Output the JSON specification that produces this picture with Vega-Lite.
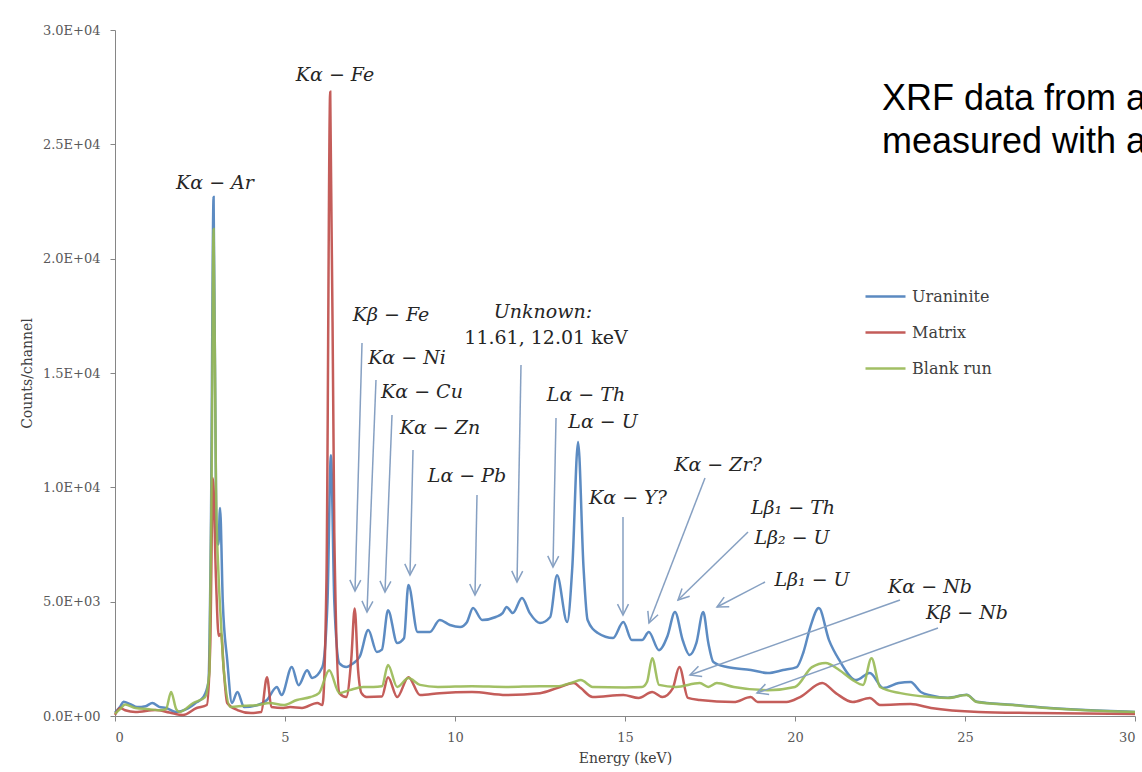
{
"$schema":"https://vega.github.io/schema/vega-lite/v6.json",
"width":1020,"height":686,
"autosize":{"type":"none"},
"padding":{"left":115,"top":30,"right":7,"bottom":56},
"background":"white",
"config":{"view":{"stroke":null},"axis":{"grid":false,"domainColor":"#868686","tickColor":"#868686","tickSize":5,"labelFont":"DejaVu Serif","labelFontSize":13,"labelColor":"#595959","titleFont":"DejaVu Serif","titleFontSize":14,"titleFontWeight":"normal","titleColor":"#404040"},"legend":{"padding":0}},
"datasets":{
"spec":[
{"s":"Uraninite","e":0.0,"c":150},{"s":"Uraninite","e":0.15,"c":400},{"s":"Uraninite","e":0.25,"c":620},{"s":"Uraninite","e":0.45,"c":520},{"s":"Uraninite","e":0.65,"c":390},{"s":"Uraninite","e":0.9,"c":430},{"s":"Uraninite","e":1.1,"c":570},{"s":"Uraninite","e":1.3,"c":400},{"s":"Uraninite","e":1.5,"c":350},{"s":"Uraninite","e":1.8,"c":175},{"s":"Uraninite","e":2.1,"c":300},{"s":"Uraninite","e":2.4,"c":600},{"s":"Uraninite","e":2.6,"c":830},{"s":"Uraninite","e":2.75,"c":1500},{"s":"Uraninite","e":2.82,"c":8000},{"s":"Uraninite","e":2.9,"c":22700},{"s":"Uraninite","e":2.98,"c":8000},{"s":"Uraninite","e":3.04,"c":7500},{"s":"Uraninite","e":3.09,"c":9100},{"s":"Uraninite","e":3.17,"c":5000},{"s":"Uraninite","e":3.3,"c":2450},{"s":"Uraninite","e":3.44,"c":570},{"s":"Uraninite","e":3.6,"c":1050},{"s":"Uraninite","e":3.8,"c":390},{"s":"Uraninite","e":4.2,"c":480},{"s":"Uraninite","e":4.47,"c":700},{"s":"Uraninite","e":4.76,"c":1270},{"s":"Uraninite","e":4.9,"c":920},{"s":"Uraninite","e":5.2,"c":2140},{"s":"Uraninite","e":5.4,"c":1350},{"s":"Uraninite","e":5.65,"c":2000},{"s":"Uraninite","e":5.8,"c":1660},{"s":"Uraninite","e":6.1,"c":2140},{"s":"Uraninite","e":6.25,"c":5000},{"s":"Uraninite","e":6.35,"c":11400},{"s":"Uraninite","e":6.45,"c":5000},{"s":"Uraninite","e":6.6,"c":2300},{"s":"Uraninite","e":6.8,"c":2140},{"s":"Uraninite","e":7.0,"c":2300},{"s":"Uraninite","e":7.2,"c":2600},{"s":"Uraninite","e":7.45,"c":3760},{"s":"Uraninite","e":7.7,"c":2800},{"s":"Uraninite","e":7.85,"c":2900},{"s":"Uraninite","e":8.03,"c":4630},{"s":"Uraninite","e":8.3,"c":3190},{"s":"Uraninite","e":8.5,"c":3400},{"s":"Uraninite","e":8.63,"c":5730},{"s":"Uraninite","e":8.9,"c":3670},{"s":"Uraninite","e":9.26,"c":3670},{"s":"Uraninite","e":9.55,"c":4200},{"s":"Uraninite","e":9.85,"c":3980},{"s":"Uraninite","e":10.15,"c":3890},{"s":"Uraninite","e":10.35,"c":4100},{"s":"Uraninite","e":10.53,"c":4720},{"s":"Uraninite","e":10.8,"c":4200},{"s":"Uraninite","e":11.2,"c":4330},{"s":"Uraninite","e":11.4,"c":4500},{"s":"Uraninite","e":11.52,"c":4770},{"s":"Uraninite","e":11.7,"c":4500},{"s":"Uraninite","e":11.97,"c":5160},{"s":"Uraninite","e":12.2,"c":4500},{"s":"Uraninite","e":12.5,"c":4070},{"s":"Uraninite","e":12.8,"c":4330},{"s":"Uraninite","e":13.0,"c":6160},{"s":"Uraninite","e":13.3,"c":4110},{"s":"Uraninite","e":13.45,"c":6500},{"s":"Uraninite","e":13.62,"c":11980},{"s":"Uraninite","e":13.78,"c":6500},{"s":"Uraninite","e":13.9,"c":4200},{"s":"Uraninite","e":14.2,"c":3630},{"s":"Uraninite","e":14.65,"c":3410},{"s":"Uraninite","e":14.95,"c":4110},{"s":"Uraninite","e":15.2,"c":3320},{"s":"Uraninite","e":15.5,"c":3320},{"s":"Uraninite","e":15.7,"c":3670},{"s":"Uraninite","e":16.0,"c":2880},{"s":"Uraninite","e":16.25,"c":3500},{"s":"Uraninite","e":16.47,"c":4550},{"s":"Uraninite","e":16.7,"c":3300},{"s":"Uraninite","e":16.9,"c":2670},{"s":"Uraninite","e":17.1,"c":3200},{"s":"Uraninite","e":17.3,"c":4550},{"s":"Uraninite","e":17.45,"c":3200},{"s":"Uraninite","e":17.6,"c":2360},{"s":"Uraninite","e":18.0,"c":2140},{"s":"Uraninite","e":18.7,"c":2010},{"s":"Uraninite","e":19.2,"c":1880},{"s":"Uraninite","e":19.65,"c":2010},{"s":"Uraninite","e":20.05,"c":2140},{"s":"Uraninite","e":20.25,"c":2800},{"s":"Uraninite","e":20.45,"c":3890},{"s":"Uraninite","e":20.7,"c":4720},{"s":"Uraninite","e":21.0,"c":3320},{"s":"Uraninite","e":21.3,"c":2450},{"s":"Uraninite","e":21.8,"c":1570},{"s":"Uraninite","e":22.2,"c":1880},{"s":"Uraninite","e":22.6,"c":1220},{"s":"Uraninite","e":23.05,"c":1440},{"s":"Uraninite","e":23.4,"c":1490},{"s":"Uraninite","e":23.7,"c":1050},{"s":"Uraninite","e":24.0,"c":900},{"s":"Uraninite","e":24.5,"c":800},{"s":"Uraninite","e":25.05,"c":930},{"s":"Uraninite","e":25.35,"c":620},{"s":"Uraninite","e":26.4,"c":490},{"s":"Uraninite","e":27.4,"c":360},{"s":"Uraninite","e":28.4,"c":270},{"s":"Uraninite","e":30.0,"c":180},
{"s":"Matrix","e":0.0,"c":50},{"s":"Matrix","e":0.15,"c":350},{"s":"Matrix","e":0.3,"c":250},{"s":"Matrix","e":0.6,"c":175},{"s":"Matrix","e":1.2,"c":260},{"s":"Matrix","e":1.6,"c":150},{"s":"Matrix","e":2.0,"c":40},{"s":"Matrix","e":2.4,"c":350},{"s":"Matrix","e":2.7,"c":480},{"s":"Matrix","e":2.8,"c":3000},{"s":"Matrix","e":2.88,"c":10400},{"s":"Matrix","e":2.97,"c":6000},{"s":"Matrix","e":3.05,"c":3500},{"s":"Matrix","e":3.12,"c":3600},{"s":"Matrix","e":3.2,"c":2000},{"s":"Matrix","e":3.3,"c":570},{"s":"Matrix","e":3.6,"c":260},{"s":"Matrix","e":4.0,"c":130},{"s":"Matrix","e":4.3,"c":175},{"s":"Matrix","e":4.47,"c":1700},{"s":"Matrix","e":4.6,"c":390},{"s":"Matrix","e":4.95,"c":350},{"s":"Matrix","e":5.15,"c":390},{"s":"Matrix","e":5.5,"c":350},{"s":"Matrix","e":5.95,"c":570},{"s":"Matrix","e":6.1,"c":480},{"s":"Matrix","e":6.22,"c":6000},{"s":"Matrix","e":6.33,"c":27300},{"s":"Matrix","e":6.45,"c":8000},{"s":"Matrix","e":6.6,"c":1000},{"s":"Matrix","e":6.8,"c":830},{"s":"Matrix","e":6.95,"c":2500},{"s":"Matrix","e":7.05,"c":4700},{"s":"Matrix","e":7.15,"c":2000},{"s":"Matrix","e":7.25,"c":1000},{"s":"Matrix","e":7.4,"c":830},{"s":"Matrix","e":7.85,"c":850},{"s":"Matrix","e":8.03,"c":1700},{"s":"Matrix","e":8.3,"c":830},{"s":"Matrix","e":8.63,"c":1700},{"s":"Matrix","e":8.97,"c":920},{"s":"Matrix","e":9.55,"c":1000},{"s":"Matrix","e":10.5,"c":1050},{"s":"Matrix","e":11.5,"c":920},{"s":"Matrix","e":12.5,"c":1000},{"s":"Matrix","e":13.0,"c":1220},{"s":"Matrix","e":13.5,"c":1440},{"s":"Matrix","e":13.7,"c":1220},{"s":"Matrix","e":14.05,"c":830},{"s":"Matrix","e":14.95,"c":920},{"s":"Matrix","e":15.4,"c":790},{"s":"Matrix","e":15.8,"c":1050},{"s":"Matrix","e":16.1,"c":830},{"s":"Matrix","e":16.4,"c":1200},{"s":"Matrix","e":16.6,"c":2140},{"s":"Matrix","e":16.85,"c":790},{"s":"Matrix","e":17.2,"c":700},{"s":"Matrix","e":18.2,"c":610},{"s":"Matrix","e":18.7,"c":830},{"s":"Matrix","e":18.9,"c":610},{"s":"Matrix","e":19.75,"c":610},{"s":"Matrix","e":20.15,"c":830},{"s":"Matrix","e":20.8,"c":1440},{"s":"Matrix","e":21.2,"c":1000},{"s":"Matrix","e":21.7,"c":610},{"s":"Matrix","e":22.2,"c":790},{"s":"Matrix","e":22.5,"c":480},{"s":"Matrix","e":23.4,"c":520},{"s":"Matrix","e":24.0,"c":350},{"s":"Matrix","e":25.4,"c":175},{"s":"Matrix","e":27.0,"c":130},{"s":"Matrix","e":30.0,"c":90},
{"s":"Blank run","e":0.0,"c":100},{"s":"Blank run","e":0.15,"c":300},{"s":"Blank run","e":0.3,"c":500},{"s":"Blank run","e":0.6,"c":350},{"s":"Blank run","e":1.0,"c":300},{"s":"Blank run","e":1.3,"c":250},{"s":"Blank run","e":1.5,"c":300},{"s":"Blank run","e":1.65,"c":1050},{"s":"Blank run","e":1.8,"c":300},{"s":"Blank run","e":1.9,"c":175},{"s":"Blank run","e":2.3,"c":570},{"s":"Blank run","e":2.65,"c":830},{"s":"Blank run","e":2.78,"c":2000},{"s":"Blank run","e":2.85,"c":12000},{"s":"Blank run","e":2.9,"c":21300},{"s":"Blank run","e":2.97,"c":10000},{"s":"Blank run","e":3.05,"c":6000},{"s":"Blank run","e":3.12,"c":4000},{"s":"Blank run","e":3.2,"c":2000},{"s":"Blank run","e":3.4,"c":390},{"s":"Blank run","e":3.8,"c":450},{"s":"Blank run","e":4.2,"c":480},{"s":"Blank run","e":4.55,"c":570},{"s":"Blank run","e":4.95,"c":480},{"s":"Blank run","e":5.35,"c":700},{"s":"Blank run","e":5.75,"c":830},{"s":"Blank run","e":6.0,"c":1000},{"s":"Blank run","e":6.3,"c":2000},{"s":"Blank run","e":6.6,"c":1000},{"s":"Blank run","e":6.9,"c":1130},{"s":"Blank run","e":7.3,"c":1270},{"s":"Blank run","e":7.6,"c":1270},{"s":"Blank run","e":7.85,"c":1300},{"s":"Blank run","e":8.03,"c":2230},{"s":"Blank run","e":8.3,"c":1270},{"s":"Blank run","e":8.63,"c":1660},{"s":"Blank run","e":8.97,"c":1360},{"s":"Blank run","e":9.5,"c":1270},{"s":"Blank run","e":10.5,"c":1300},{"s":"Blank run","e":11.5,"c":1270},{"s":"Blank run","e":12.5,"c":1300},{"s":"Blank run","e":13.0,"c":1300},{"s":"Blank run","e":13.5,"c":1490},{"s":"Blank run","e":13.7,"c":1570},{"s":"Blank run","e":14.05,"c":1270},{"s":"Blank run","e":15.0,"c":1250},{"s":"Blank run","e":15.5,"c":1270},{"s":"Blank run","e":15.65,"c":1500},{"s":"Blank run","e":15.8,"c":2530},{"s":"Blank run","e":16.0,"c":1360},{"s":"Blank run","e":16.5,"c":1270},{"s":"Blank run","e":17.2,"c":1440},{"s":"Blank run","e":17.45,"c":1270},{"s":"Blank run","e":17.7,"c":1440},{"s":"Blank run","e":18.2,"c":1270},{"s":"Blank run","e":19.2,"c":1130},{"s":"Blank run","e":20.0,"c":1270},{"s":"Blank run","e":20.5,"c":2140},{"s":"Blank run","e":20.9,"c":2320},{"s":"Blank run","e":21.3,"c":2010},{"s":"Blank run","e":21.7,"c":1570},{"s":"Blank run","e":22.0,"c":1360},{"s":"Blank run","e":22.25,"c":2530},{"s":"Blank run","e":22.5,"c":1270},{"s":"Blank run","e":23.1,"c":1000},{"s":"Blank run","e":24.0,"c":830},{"s":"Blank run","e":24.5,"c":790},{"s":"Blank run","e":25.05,"c":920},{"s":"Blank run","e":25.35,"c":610},{"s":"Blank run","e":26.4,"c":480},{"s":"Blank run","e":27.4,"c":350},{"s":"Blank run","e":28.4,"c":260},{"s":"Blank run","e":30.0,"c":175}
],
"arrows":[
{"e":7.265,"c":16311,"e2":7.059,"c2":5466,"a":1.6},
{"e":7.676,"c":14693,"e2":7.412,"c2":4548,"a":2.2},
{"e":8.147,"c":13163,"e2":7.941,"c2":5423,"a":2.3},
{"e":8.765,"c":11632,"e2":8.676,"c2":6166,"a":1.4},
{"e":10.647,"c":9664,"e2":10.588,"c2":5291,"a":1.1},
{"e":11.941,"c":15349,"e2":11.824,"c2":5860,"a":1.1},
{"e":12.971,"c":13032,"e2":12.882,"c2":6516,"a":1.2},
{"e":14.941,"c":8702,"e2":14.941,"c2":4417,"a":0},
{"e":17.353,"c":10408,"e2":15.706,"c2":4067,"a":21.1},
{"e":18.618,"c":8046,"e2":16.559,"c2":5073,"a":45.8},
{"e":19.118,"c":5860,"e2":17.706,"c2":4767,"a":62.5},
{"e":23.088,"c":5073,"e2":16.912,"c2":1793,"a":70.3},
{"e":24.206,"c":3848,"e2":18.882,"c2":1006,"a":70.2}
],
"labels":[
{"e":2.941,"c":23308,"t":"Kα − Ar"},
{"e":6.471,"c":28031,"t":"Kα − Fe"},
{"e":8.118,"c":17536,"t":"Kβ − Fe"},
{"e":12.588,"c":17667,"t":"Unknown:"},
{"e":8.588,"c":15655,"t":"Kα − Ni"},
{"e":9.029,"c":14169,"t":"Kα − Cu"},
{"e":9.559,"c":12594,"t":"Kα − Zn"},
{"e":10.353,"c":10495,"t":"Lα − Pb"},
{"e":13.853,"c":14037,"t":"Lα − Th"},
{"e":14.353,"c":12857,"t":"Lα − U"},
{"e":15.088,"c":9533,"t":"Kα − Y?"},
{"e":17.735,"c":10976,"t":"Kα − Zr?"},
{"e":19.941,"c":9096,"t":"Lβ₁ − Th"},
{"e":19.912,"c":7784,"t":"Lβ₂ − U"},
{"e":20.5,"c":5947,"t":"Lβ₁ − U"},
{"e":23.971,"c":5641,"t":"Kα − Nb"},
{"e":25.059,"c":4504,"t":"Kβ − Nb"}
],
"plain":[{"e":12.676,"c":16530,"t":"11.61, 12.01 keV"}],
"note":[{"e":22.559,"c":26500,"t":"XRF data from a"},{"e":22.559,"c":24620,"t":"measured with a"}]
},
"layer":[
{"data":{"name":"spec"},
 "mark":{"type":"line","strokeWidth":2.5,"interpolate":"monotone","opacity":0.9},
 "encoding":{
  "x":{"field":"e","type":"quantitative","scale":{"domain":[0,30],"nice":false},"axis":{"values":[0,5,10,15,20,25,30],"format":"d","labelPadding":10,"titlePadding":7},"title":"Energy (keV)"},
  "y":{"field":"c","type":"quantitative","scale":{"domain":[0,30000],"nice":false},"axis":{"values":[0,5000,10000,15000,20000,25000,30000],"labelExpr":"replace(format(datum.value, '.1e'), 'e+', 'E+0')","labelPadding":10,"titlePadding":8},"title":"Counts/channel"},
  "color":{"field":"s","type":"nominal","sort":["Uraninite","Matrix","Blank run"],"scale":{"domain":["Uraninite","Matrix","Blank run"],"range":["#4A7EBB","#BE4B48","#98B954"]},"legend":{"title":null,"orient":"none","legendX":749,"legendY":245,"symbolType":"stroke","symbolSize":1600,"symbolStrokeWidth":2.5,"labelFont":"DejaVu Serif","labelFontSize":16,"labelColor":"#404040","labelOffset":5,"rowPadding":6}}
 }},
{"data":{"name":"arrows"},
 "mark":{"type":"rule","color":"#86A0C2","strokeWidth":1.5},
 "encoding":{"x":{"field":"e","type":"quantitative"},"y":{"field":"c","type":"quantitative"},"x2":{"field":"e2"},"y2":{"field":"c2"}}},
{"data":{"name":"arrows"},
 "mark":{"type":"point","shape":"M-0.5,-1L0,0L0.5,-1","filled":false,"color":"#86A0C2","strokeWidth":1.5,"size":480,"opacity":1},
 "encoding":{"x":{"field":"e2","type":"quantitative"},"y":{"field":"c2","type":"quantitative"},"angle":{"field":"a","type":"quantitative","scale":null}}},
{"data":{"name":"labels"},
 "mark":{"type":"text","font":"DejaVu Serif","fontStyle":"italic","fontSize":19,"color":"#262626","align":"center","baseline":"middle"},
 "encoding":{"x":{"field":"e","type":"quantitative"},"y":{"field":"c","type":"quantitative"},"text":{"field":"t"}}},
{"data":{"name":"plain"},
 "mark":{"type":"text","font":"DejaVu Serif","fontSize":19,"color":"#262626","align":"center","baseline":"middle"},
 "encoding":{"x":{"field":"e","type":"quantitative"},"y":{"field":"c","type":"quantitative"},"text":{"field":"t"}}},
{"data":{"name":"note"},
 "mark":{"type":"text","font":"Liberation Sans","fontSize":36,"color":"#000000","align":"left","baseline":"alphabetic"},
 "encoding":{"x":{"field":"e","type":"quantitative"},"y":{"field":"c","type":"quantitative"},"text":{"field":"t"}}}
]
}
